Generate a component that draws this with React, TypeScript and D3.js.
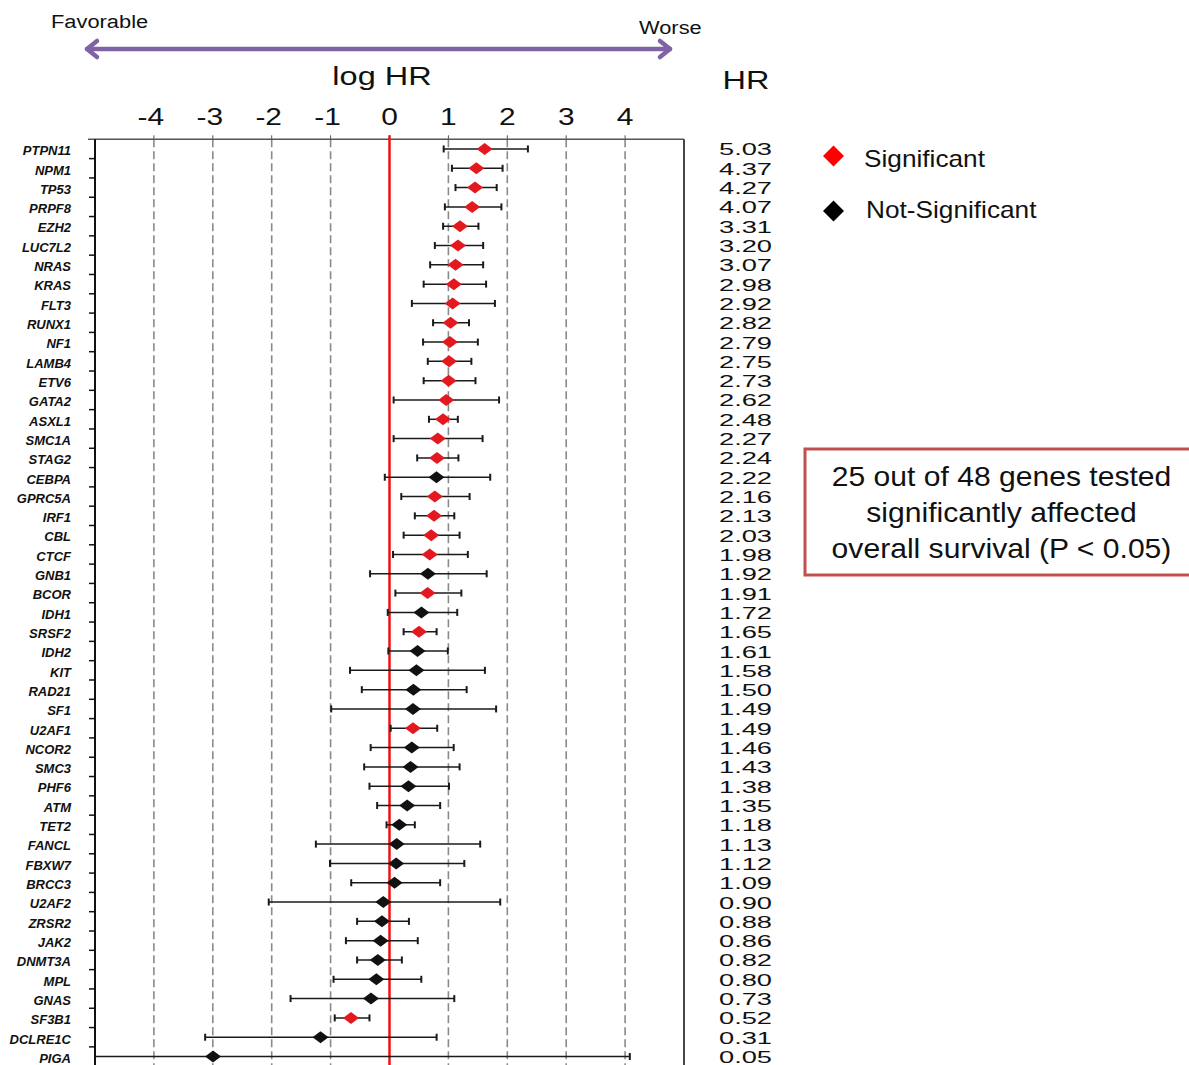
import React from "react";
import * as d3 from "d3";

const genes = [
  "PTPN11", "NPM1", "TP53", "PRPF8", "EZH2", "LUC7L2", "NRAS", "KRAS", "FLT3", "RUNX1",
  "NF1", "LAMB4", "ETV6", "GATA2", "ASXL1", "SMC1A", "STAG2", "CEBPA", "GPRC5A", "IRF1",
  "CBL", "CTCF", "GNB1", "BCOR", "IDH1", "SRSF2", "IDH2", "KIT", "RAD21", "SF1",
  "U2AF1", "NCOR2", "SMC3", "PHF6", "ATM", "TET2", "FANCL", "FBXW7", "BRCC3", "U2AF2",
  "ZRSR2", "JAK2", "DNMT3A", "MPL", "GNAS", "SF3B1", "DCLRE1C", "PIGA",
];

const hrValues = [
  5.03, 4.37, 4.27, 4.07, 3.31, 3.2, 3.07, 2.98, 2.92, 2.82,
  2.79, 2.75, 2.73, 2.62, 2.48, 2.27, 2.24, 2.22, 2.16, 2.13,
  2.03, 1.98, 1.92, 1.91, 1.72, 1.65, 1.61, 1.58, 1.5, 1.49,
  1.49, 1.46, 1.43, 1.38, 1.35, 1.18, 1.13, 1.12, 1.09, 0.9,
  0.88, 0.86, 0.82, 0.8, 0.73, 0.52, 0.31, 0.05,
];

// 95% CI bounds on the log HR scale
const ciLower = [
  0.92, 1.06, 1.12, 0.94, 0.91, 0.77, 0.69, 0.58, 0.38, 0.74,
  0.57, 0.65, 0.58, 0.07, 0.67, 0.07, 0.47, -0.08, 0.2, 0.43,
  0.24, 0.06, -0.33, 0.1, -0.03, 0.24, -0.02, -0.67, -0.47, -0.99,
  0.02, -0.32, -0.43, -0.34, -0.21, -0.05, -1.25, -1.01, -0.65, -2.05,
  -0.55, -0.74, -0.55, -0.95, -1.68, -0.93, -3.13, -5.3,
];
const ciUpper = [
  2.35, 1.92, 1.82, 1.9, 1.51, 1.59, 1.59, 1.64, 1.79, 1.35,
  1.5, 1.39, 1.46, 1.86, 1.16, 1.58, 1.17, 1.71, 1.36, 1.1,
  1.19, 1.33, 1.65, 1.22, 1.15, 0.8, 0.99, 1.62, 1.31, 1.81,
  0.81, 1.09, 1.19, 1.01, 0.86, 0.43, 1.54, 1.27, 0.86, 1.88,
  0.33, 0.48, 0.21, 0.54, 1.1, -0.34, 0.8, 4.08,
];

const significantGenes = [
  "PTPN11", "NPM1", "TP53", "PRPF8", "EZH2", "LUC7L2", "NRAS", "KRAS", "FLT3", "RUNX1",
  "NF1", "LAMB4", "ETV6", "GATA2", "ASXL1", "SMC1A", "STAG2", "GPRC5A", "IRF1", "CBL",
  "CTCF", "BCOR", "SRSF2", "U2AF1", "SF3B1",
];

const xTicks = [-4, -3, -2, -1, 0, 1, 2, 3, 4];
const legendItems = ["Significant", "Not-Significant"];
const boxLines = [
  "25 out of 48 genes tested",
  "significantly affected",
  "overall survival (P < 0.05)",
];

const RED = "#e3191f";
const BLACK = "#111111";
const PURPLE = "#8063a6";
const FONT = "'Liberation Sans', Arial, sans-serif";

function SText(props: any) {
  const { x, y, sx = 1, anchor = "start", children, ...rest } = props;
  return (
    <text
      transform={`translate(${x},${y}) scale(${sx},1)`}
      textAnchor={anchor}
      fontFamily={FONT}
      {...rest}
    >
      {children}
    </text>
  );
}

export default function App() {
  const W = 1189;
  const H = 1065;
  const plotLeft = 95;
  const plotRight = 684;
  const plotTop = 139.3;
  const rowH = 19.31;

  const x = d3.scaleLinear().domain([-5, 5]).range([plotLeft, plotRight]);
  const y = d3
    .scaleBand<string>()
    .domain(genes)
    .range([plotTop, plotTop + rowH * genes.length]);
  const bottom = H + 5;
  const cy = (g: string) => (y(g) as number) + y.bandwidth() / 2;

  const diamond = (cx: number, cyy: number, w: number, h: number) =>
    `M${cx - w / 2},${cyy} L${cx},${cyy - h / 2} L${cx + w / 2},${cyy} L${cx},${cyy + h / 2} Z`;

  const [xMin, xMax] = x.domain();

  return (
    <svg
      width={W}
      height={H}
      style={{ position: "absolute", left: 0, top: 0, background: "#fff" }}
    >
      {/* direction arrow */}
      <SText x={51} y={28} sx={1.15} fontSize={19} fill="#111">Favorable</SText>
      <SText x={639} y={34} sx={1.15} fontSize={19} fill="#111">Worse</SText>
      <g stroke={PURPLE} strokeWidth={4.5} fill="none" strokeLinecap="round" strokeLinejoin="round">
        <line x1={87} y1={49} x2={670} y2={49} />
        <polyline points="97,41 87,49 97,57" />
        <polyline points="660,41 670,49 660,57" />
      </g>

      {/* axis titles */}
      <SText x={382} y={85} sx={1.3} anchor="middle" fontSize={25} fill="#111">log HR</SText>
      <SText x={746} y={89} sx={1.3} anchor="middle" fontSize={25} fill="#111">HR</SText>

      {/* x tick labels */}
      {xTicks.map((t) => (
        <SText key={t} x={x(t) - (t < 0 ? 3 : 0)} y={125} sx={1.3} anchor="middle" fontSize={23} fill="#111">
          {t < 0 ? `-${Math.abs(t)}` : `${t}`}
        </SText>
      ))}

      {/* gridlines */}
      {xTicks.filter((t) => t !== 0).map((t) => (
        <line
          key={`g${t}`}
          x1={x(t)}
          x2={x(t)}
          y1={plotTop}
          y2={bottom}
          stroke="#8a8a8a"
          strokeWidth={1.6}
          strokeDasharray="8,4"
        />
      ))}
      {/* top axis ticks */}
      {xTicks.map((t) => (
        <line key={`tt${t}`} x1={x(t)} x2={x(t)} y1={plotTop - 4} y2={plotTop} stroke="#555" strokeWidth={1} />
      ))}

      {/* frame */}
      <line x1={88} x2={plotRight} y1={plotTop} y2={plotTop} stroke="#555" strokeWidth={1.5} />
      <line x1={plotRight} x2={plotRight} y1={plotTop} y2={bottom} stroke="#333" strokeWidth={1.8} />
      <line x1={plotLeft} x2={plotLeft} y1={plotTop} y2={bottom} stroke="#111" strokeWidth={2} />
      {genes.map((g) => (
        <line
          key={`yt${g}`}
          x1={89}
          x2={plotLeft}
          y1={(y(g) as number) + y.bandwidth()}
          y2={(y(g) as number) + y.bandwidth()}
          stroke="#111"
          strokeWidth={1.5}
        />
      ))}

      {/* zero line */}
      <line x1={x(0)} x2={x(0)} y1={plotTop - 4} y2={bottom} stroke="#ee1111" strokeWidth={2.5} />

      {/* gene labels */}
      {genes.map((g) => (
        <SText
          key={`l${g}`}
          x={71}
          y={cy(g) + 6.3}
          anchor="end"
          fontSize={13}
          fontWeight="bold"
          fontStyle="italic"
          fill="#111"
        >
          {g}
        </SText>
      ))}

      {/* error bars */}
      {genes.map((g, i) => {
        const lo = Math.max(ciLower[i], xMin);
        const hi = Math.min(ciUpper[i], xMax);
        const c = cy(g);
        return (
          <g key={`e${g}`} stroke="#1a1a1a" strokeWidth={1.5}>
            <line x1={x(lo)} x2={x(hi)} y1={c} y2={c} />
            {ciLower[i] >= xMin && <line x1={x(lo)} x2={x(lo)} y1={c - 3.5} y2={c + 3.5} strokeWidth={2} />}
            {ciUpper[i] <= xMax && <line x1={x(hi)} x2={x(hi)} y1={c - 3.5} y2={c + 3.5} strokeWidth={2} />}
          </g>
        );
      })}

      {/* diamonds */}
      {genes.map((g, i) => (
        <path
          key={`d${g}`}
          d={diamond(x(Math.log(hrValues[i])), cy(g), 16, 12)}
          fill={significantGenes.includes(g) ? RED : BLACK}
        />
      ))}

      {/* HR values */}
      {genes.map((g, i) => (
        <text
          key={`h${g}`}
          x={719}
          y={cy(g) + 6.5}
          fontFamily={FONT}
          fontSize={16}
          textLength={53}
          lengthAdjust="spacingAndGlyphs"
          fill="#111"
        >
          {hrValues[i].toFixed(2)}
        </text>
      ))}

      {/* legend */}
      {legendItems.map((item, i) => {
        const ly = i === 0 ? 156 : 211;
        return (
          <g key={item}>
            <path d={diamond(833.5, ly, 21, 21)} fill={i === 0 ? "#ff0000" : "#000"} />
            <SText x={i === 0 ? 864 : 866} y={i === 0 ? 167 : 218} sx={1.14} fontSize={23} fill="#111">
              {item}
            </SText>
          </g>
        );
      })}

      {/* annotation box */}
      <rect x={805} y={449} width={400} height={126} fill="#fff" stroke="#c0504d" strokeWidth={3} />
      {boxLines.map((line, i) => (
        <SText key={line} x={1001.5} y={486 + i * 36} sx={1.115} anchor="middle" fontSize={27} fill="#111">
          {line}
        </SText>
      ))}
    </svg>
  );
}
